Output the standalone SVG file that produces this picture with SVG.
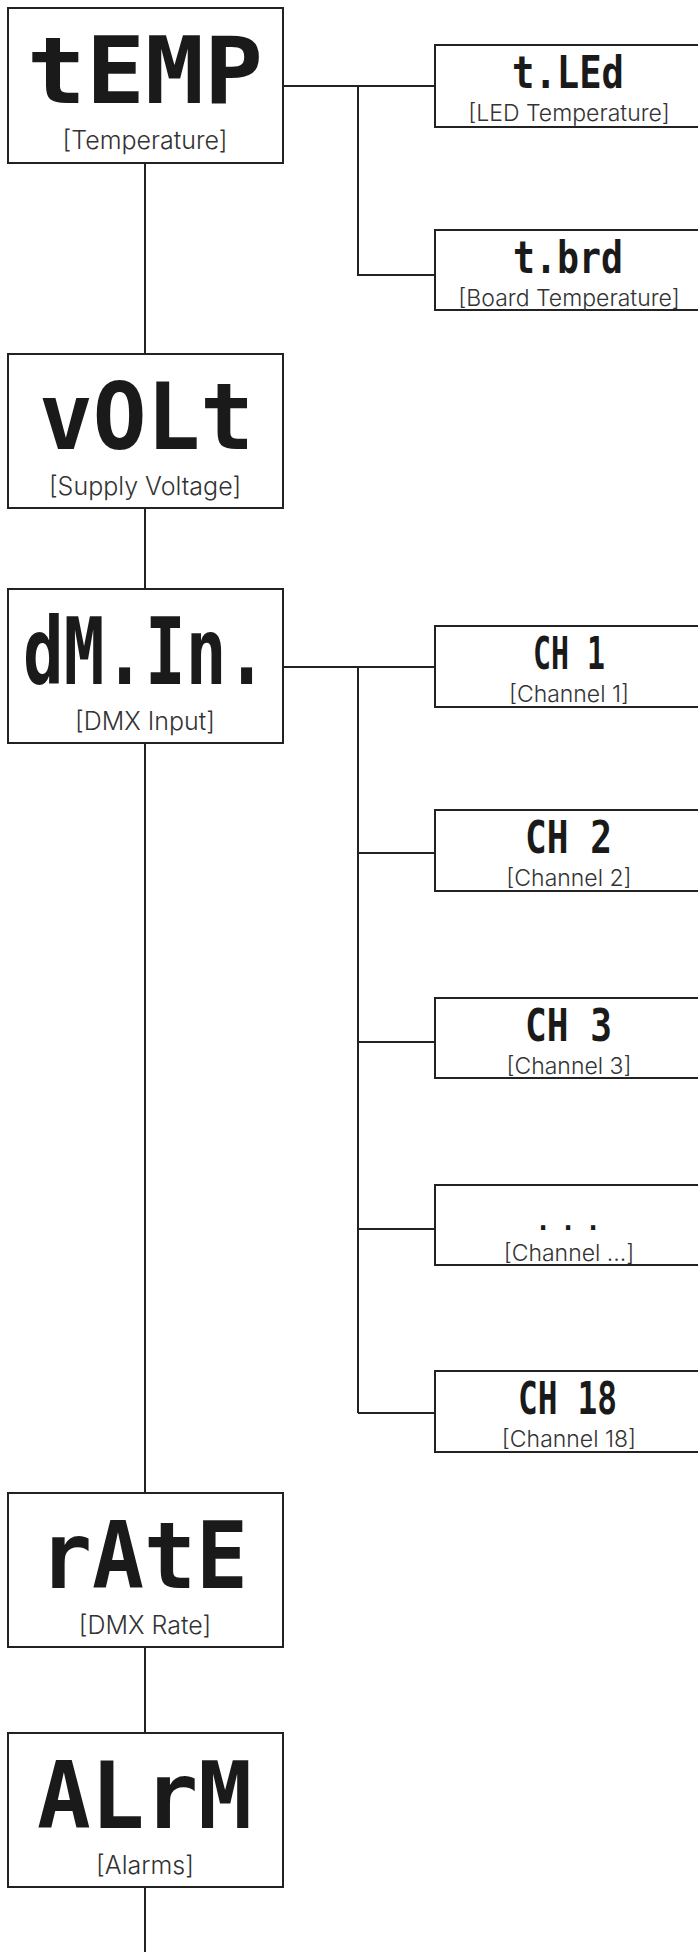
<svg xmlns="http://www.w3.org/2000/svg" width="698" height="1952" viewBox="0 0 698 1952">
<style>
.box{fill:#fff;stroke:#222;stroke-width:2}
.ln{fill:none;stroke:#222;stroke-width:2}
.seg{font-family:"DejaVu Sans Mono","Liberation Mono",monospace;font-weight:bold;fill:#1a1a1a}
.big{font-size:93px}
.small{font-size:44px}
.lbl{font-family:Inter,"Noto Sans","Liberation Sans",sans-serif;font-weight:300;fill:#333;text-anchor:middle}
.lm{font-size:25px}
.ls{font-size:23px}
</style>
<rect width="698" height="1952" fill="#fff"/>
<g id="connectors">
<path class="ln" d="M145 163V354M145 508V589M145 743V1493M145 1647V1733M145 1887V1952"/>
<path class="ln" d="M283 86H435M358 86V275H435"/>
<path class="ln" d="M283 667H435M358 667V1413M358 853H435M358 1042H435M358 1229H435M358 1413H435"/>
</g>
<g id="temp">
<rect class="box" x="8" y="8" width="275" height="155"/>
<text class="seg big" x="27" y="103" textLength="236" lengthAdjust="spacingAndGlyphs">tEMP</text>
<text class="lbl lm" x="145" y="149">[Temperature]</text>
</g>
<g id="tled">
<rect class="box" x="435" y="45" width="270" height="82"/>
<text class="seg small" x="512" y="88" textLength="112" lengthAdjust="spacingAndGlyphs">t.LEd</text>
<text class="lbl ls" x="569" y="121">[LED Temperature]</text>
</g>
<g id="tbrd">
<rect class="box" x="435" y="230" width="270" height="80"/>
<text class="seg small" x="513" y="273" textLength="110" lengthAdjust="spacingAndGlyphs">t.brd</text>
<text class="lbl ls" x="569" y="306">[Board Temperature]</text>
</g>
<g id="volt">
<rect class="box" x="8" y="354" width="275" height="154"/>
<text class="seg big" x="39" y="449" textLength="215" lengthAdjust="spacingAndGlyphs">vOLt</text>
<text class="lbl lm" x="145" y="495">[Supply Voltage]</text>
</g>
<g id="dmin">
<rect class="box" x="8" y="589" width="275" height="154"/>
<text class="seg big" x="23" y="684" textLength="244" lengthAdjust="spacingAndGlyphs">dM.In.</text>
<text class="lbl lm" x="145" y="730">[DMX Input]</text>
</g>
<g id="ch1">
<rect class="box" x="435" y="626" width="270" height="81"/>
<text class="seg small" x="533" y="669" textLength="72" lengthAdjust="spacingAndGlyphs">CH 1</text>
<text class="lbl ls" x="569" y="702">[Channel 1]</text>
</g>
<g id="ch2">
<rect class="box" x="435" y="810" width="270" height="81"/>
<text class="seg small" x="525" y="853" textLength="87" lengthAdjust="spacingAndGlyphs">CH 2</text>
<text class="lbl ls" x="569" y="886">[Channel 2]</text>
</g>
<g id="ch3">
<rect class="box" x="435" y="998" width="270" height="80"/>
<text class="seg small" x="525" y="1041" textLength="87" lengthAdjust="spacingAndGlyphs">CH 3</text>
<text class="lbl ls" x="569" y="1074">[Channel 3]</text>
</g>
<g id="chn">
<rect class="box" x="435" y="1185" width="270" height="80"/>
<text class="seg" font-size="26" x="543 568 593" y="1230" text-anchor="middle">...</text>
<text class="lbl ls" x="569" y="1261">[Channel ...]</text>
</g>
<g id="ch18">
<rect class="box" x="435" y="1371" width="270" height="81"/>
<text class="seg small" x="518" y="1414" textLength="99" lengthAdjust="spacingAndGlyphs">CH 18</text>
<text class="lbl ls" x="569" y="1447">[Channel 18]</text>
</g>
<g id="rate">
<rect class="box" x="8" y="1493" width="275" height="154"/>
<text class="seg big" x="40" y="1588" textLength="208" lengthAdjust="spacingAndGlyphs">rAtE</text>
<text class="lbl lm" x="145" y="1634">[DMX Rate]</text>
</g>
<g id="alrm">
<rect class="box" x="8" y="1733" width="275" height="154"/>
<text class="seg big" x="37" y="1828" textLength="215" lengthAdjust="spacingAndGlyphs">ALrM</text>
<text class="lbl lm" x="145" y="1874">[Alarms]</text>
</g>
</svg>
